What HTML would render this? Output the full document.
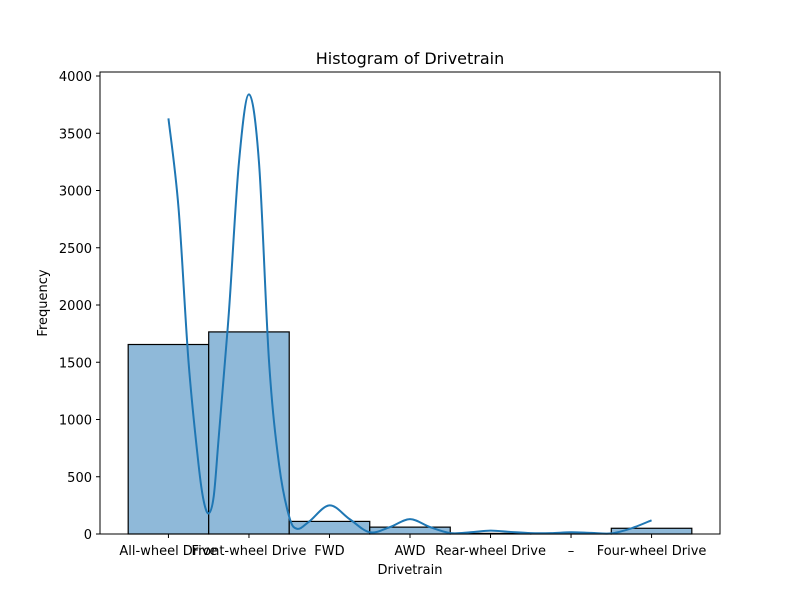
<!DOCTYPE html>
<html><head><meta charset="utf-8"><style>
body{margin:0;background:#fff}
svg text{font-family:"DejaVu Sans","Liberation Sans",sans-serif;fill:#000}
</style></head><body>
<svg id="chart" width="800" height="600" viewBox="0 0 800 600" xmlns="http://www.w3.org/2000/svg">
<rect width="800" height="600" fill="#fff"/>
<text x="410" y="64" font-size="16" text-anchor="middle">Histogram of Drivetrain</text>
<g id="bars"></g>
<path id="kde" fill="none" stroke="#1f77b4" stroke-width="2"/>
<rect x="100" y="72" width="620" height="462" fill="none" stroke="#000" stroke-width="1"/>
<g id="xticks"></g>
<g id="yticks"></g>
<text x="410" y="574" font-size="13" text-anchor="middle">Drivetrain</text>
<text x="47" y="303" font-size="13" text-anchor="middle" transform="rotate(-90 47 303)">Frequency</text>
</svg>
<script>
const categories=["All-wheel Drive","Front-wheel Drive","FWD","AWD","Rear-wheel Drive","–","Four-wheel Drive"];
const counts=[1655,1765,110,60,5,2,50];
const yTicks=[0,500,1000,1500,2000,2500,3000,3500,4000];
const kdeX=[0,0.125,0.25,0.375,0.4375,0.5,0.5625,0.625,0.75,0.875,1,1.125,1.25,1.375,1.5,1.6,1.75,2,2.25,2.5,2.75,3,3.25,3.5,3.75,4,4.25,4.5,4.75,5,5.25,5.5,5.75,6];
const kdeY=[3630,2850,1500,600,290,180,330,850,1930,3240,3840,3240,1500,600,150,45,110,250,130,15,60,130,60,8,15,30,18,8,8,15,10,5,50,120];
const NS="http://www.w3.org/2000/svg";
function xs(v){return 100+(v+0.85)*620/7.7;}
function ys(v){return 534-v*458/4000;}
const bars=document.getElementById('bars');
counts.forEach((c,i)=>{
 const r=document.createElementNS(NS,'rect');
 r.setAttribute('x',xs(i-0.5));r.setAttribute('width',xs(i+0.5)-xs(i-0.5));
 r.setAttribute('y',ys(c));r.setAttribute('height',ys(0)-ys(c));
 r.setAttribute('fill','#8fb9d9');r.setAttribute('stroke','#000');r.setAttribute('stroke-width','1.2');
 
 
 bars.appendChild(r);
});
const pts=kdeX.map((x,i)=>[xs(x),ys(kdeY[i])]);
let d='M'+pts[0][0]+','+pts[0][1];
for(let i=0;i<pts.length-1;i++){
 const p0=pts[i-1]||pts[i],p1=pts[i],p2=pts[i+1],p3=pts[i+2]||p2;
 const c1=[p1[0]+(p2[0]-p0[0])/6,p1[1]+(p2[1]-p0[1])/6];
 const c2=[p2[0]-(p3[0]-p1[0])/6,p2[1]-(p3[1]-p1[1])/6];
 d+=' C'+c1+' '+c2+' '+p2;
}
document.getElementById('kde').setAttribute('d',d);
const xt=document.getElementById('xticks');
categories.forEach((c,i)=>{
 const l=document.createElementNS(NS,'line');
 l.setAttribute('x1',xs(i));l.setAttribute('x2',xs(i));l.setAttribute('y1',534);l.setAttribute('y2',538);l.setAttribute('stroke','#000');
 
 
 xt.appendChild(l);
 const t=document.createElementNS(NS,'text');
 t.setAttribute('x',xs(i));t.setAttribute('y',555);t.setAttribute('font-size','13');t.setAttribute('text-anchor','middle');
 t.textContent=c;
 
 
 xt.appendChild(t);
});
const yt=document.getElementById('yticks');
yTicks.forEach(v=>{
 const l=document.createElementNS(NS,'line');
 l.setAttribute('x1',96);l.setAttribute('x2',100);l.setAttribute('y1',ys(v));l.setAttribute('y2',ys(v));l.setAttribute('stroke','#000');
 
 
 yt.appendChild(l);
 const t=document.createElementNS(NS,'text');
 t.setAttribute('x',92);t.setAttribute('y',ys(v)+5);t.setAttribute('font-size','13');t.setAttribute('text-anchor','end');
 t.textContent=v;
 
 
 yt.appendChild(t);
});
</script>
</body></html>
